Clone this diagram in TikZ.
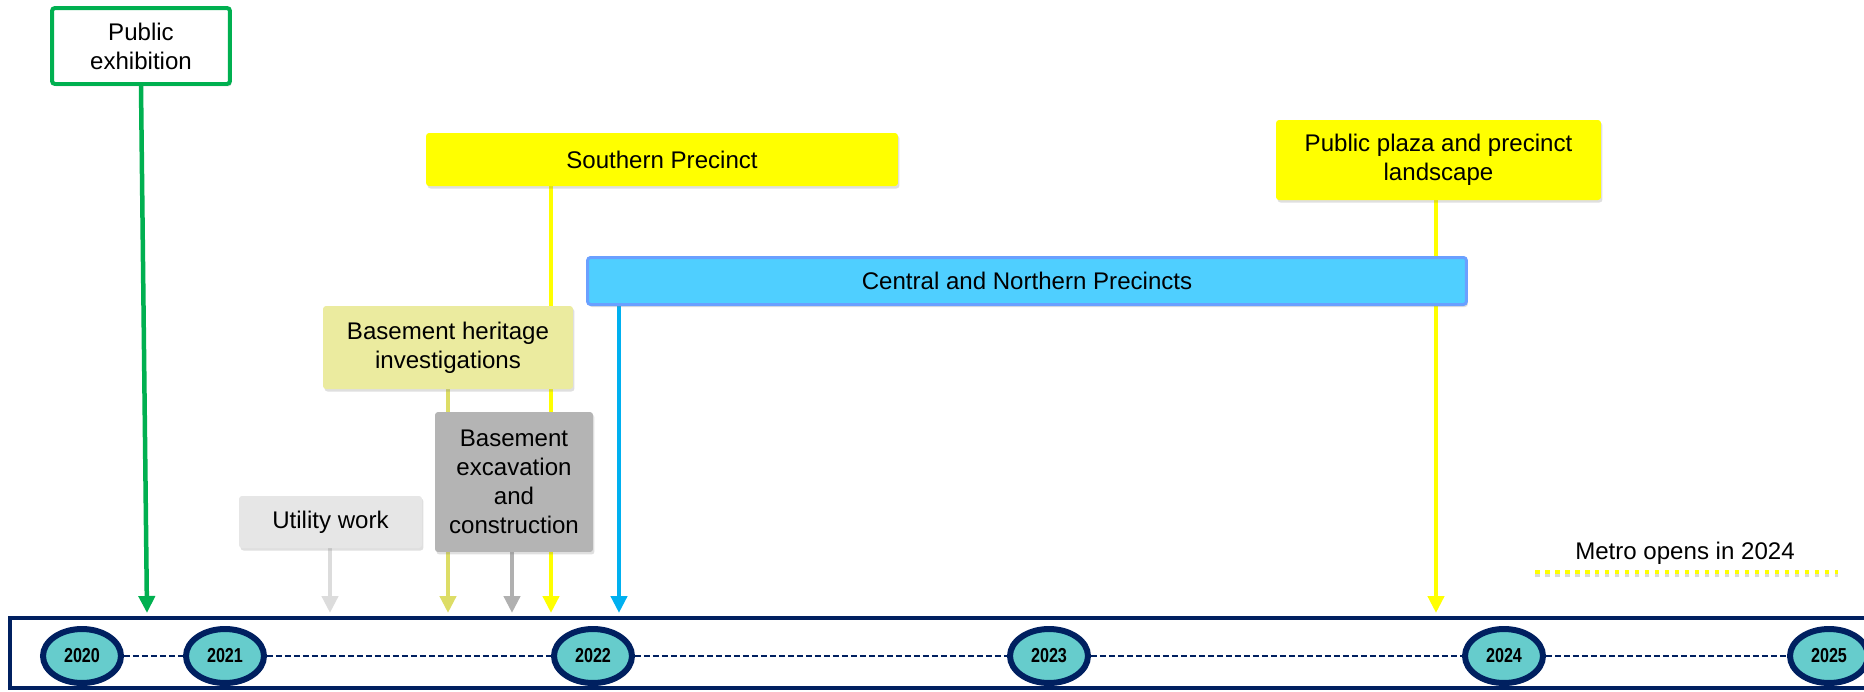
\documentclass[tikz,border=0pt]{standalone}
\usepackage{fontspec}
\setmainfont{Liberation Sans}
\usepackage{graphicx}
\usetikzlibrary{arrows.meta,shapes.geometric,shadows}

\definecolor{exgreen}{HTML}{00B050}
\definecolor{syellow}{HTML}{FFFF00}
\definecolor{cblue}{HTML}{4FCFFF}
\definecolor{cedge}{HTML}{6AA0FF}
\definecolor{hkhaki}{HTML}{EBEB9F}
\definecolor{hline}{HTML}{DDDD66}
\definecolor{exgray}{HTML}{B4B4B4}
\definecolor{gline}{HTML}{B0B0B0}
\definecolor{ulgray}{HTML}{E6E6E6}
\definecolor{ulline}{HTML}{DCDCDC}
\definecolor{bline}{HTML}{00B0F0}
\definecolor{tlnavy}{HTML}{002060}
\definecolor{yrteal}{HTML}{66CCCC}

\newcommand{\yr}[1]{\scalebox{0.8}[1]{#1}}

\pgfdeclarelayer{bg}
\pgfsetlayers{bg,main}

\begin{document}
\begin{tikzpicture}[x=0.02cm,y=-0.02cm,
  box/.style={rectangle, rounded corners=0.06cm, align=center, inner sep=0pt,
    font=\fontsize{13.7}{16.4}\selectfont,
    drop shadow={opacity=0.25, shadow xshift=0.03cm, shadow yshift=-0.05cm}},
  link/.style={line width=0.09cm, -{Triangle[length=0.34cm,width=0.32cm]}},
  year/.style={ellipse, draw=tlnavy, line width=0.12cm, fill=yrteal,
    minimum width=1.56cm, minimum height=1.08cm, inner sep=0pt,
    font=\fontsize{11.5}{12}\selectfont\bfseries,
    drop shadow={opacity=0.2, shadow xshift=0.03cm, shadow yshift=-0.05cm}},
  yearlink/.style={tlnavy, line width=0.04cm, dash pattern=on 0.12cm off 0.06cm}]

\useasboundingbox (0,0) rectangle (1864,691);
\clip (0,0) rectangle (1864,691);

% work packages
\node[box, draw=exgreen, line width=0.08cm, fill=white, minimum width=3.56cm, minimum height=1.52cm] (exhib) at (141,46) {Public\\exhibition};
\node[box, fill=syellow, minimum width=9.44cm, minimum height=1.06cm] (south) at (662,159.5) {Southern Precinct};
\node[box, fill=syellow, minimum width=6.5cm, minimum height=1.6cm] (plaza) at (1438.5,160) {Public plaza and precinct\\landscape};
\node[box, fill=cblue, draw=cedge, line width=0.06cm, minimum width=17.58cm, minimum height=0.94cm] (central) at (1027,281) {Central and Northern Precincts};
\node[box, fill=hkhaki, minimum width=5cm, minimum height=1.66cm] (heritage) at (448,347.5) {Basement heritage\\investigations};
\node[box, fill=exgray, minimum width=3.16cm, minimum height=2.8cm] (excav) at (514,482) {Basement\\excavation\\and\\construction};
\node[box, fill=ulgray, minimum width=3.66cm, minimum height=1.04cm] (utility) at (330.5,522) {Utility work};

% where the arrows meet the timeline
\coordinate (aExhib) at (147,613);
\coordinate (aUtility) at (330,613);
\coordinate (aHeritage) at (448,613);
\coordinate (aExcav) at (512,613);
\coordinate (aSouth) at (551,613);
\coordinate (aCentral) at (619,613);
\coordinate (aPlaza) at (1436,613);

\begin{pgfonlayer}{bg}
\draw[link, exgreen] (exhib.south) -- (aExhib);
\draw[link, ulline] (utility.south -| aUtility) -- (aUtility);
\draw[link, hline] (heritage.south -| aHeritage) -- (aHeritage);
\draw[link, gline] (excav.south -| aExcav) -- (aExcav);
\draw[link, syellow] (south.south -| aSouth) -- (aSouth);
\draw[link, bline] (central.south -| aCentral) -- (aCentral);
\draw[link, syellow] (plaza.south -| aPlaza) -- (aPlaza);
\end{pgfonlayer}

% timeline
\draw[tlnavy, line width=0.09cm] (10,618) rectangle (1900,688);
\node[year] (y2020) at (82,656) {\yr{2020}};
\node[year] (y2021) at (225,656) {\yr{2021}};
\node[year] (y2022) at (593,656) {\yr{2022}};
\node[year] (y2023) at (1049,656) {\yr{2023}};
\node[year] (y2024) at (1504,656) {\yr{2024}};
\node[year] (y2025) at (1829,656) {\yr{2025}};
\draw[yearlink] (y2020) -- (y2021);
\draw[yearlink] (y2021) -- (y2022);
\draw[yearlink] (y2022) -- (y2023);
\draw[yearlink] (y2023) -- (y2024);
\draw[yearlink] (y2024) -- (y2025);

% metro legend
\node[font=\fontsize{13.7}{16.4}\selectfont, inner sep=0pt] (metro) at (1685,553) {Metro opens in 2024};
\coordinate (mL) at (1535,572);
\coordinate (mR) at (1838,572);
\draw[gray, opacity=0.3, line width=0.09cm, dash pattern=on 0.09cm off 0.11cm] ([yshift=-0.06cm]mL) -- ([yshift=-0.06cm]mR);
\draw[syellow, line width=0.09cm, dash pattern=on 0.09cm off 0.11cm] (mL) -- (mR);

\end{tikzpicture}
\end{document}
